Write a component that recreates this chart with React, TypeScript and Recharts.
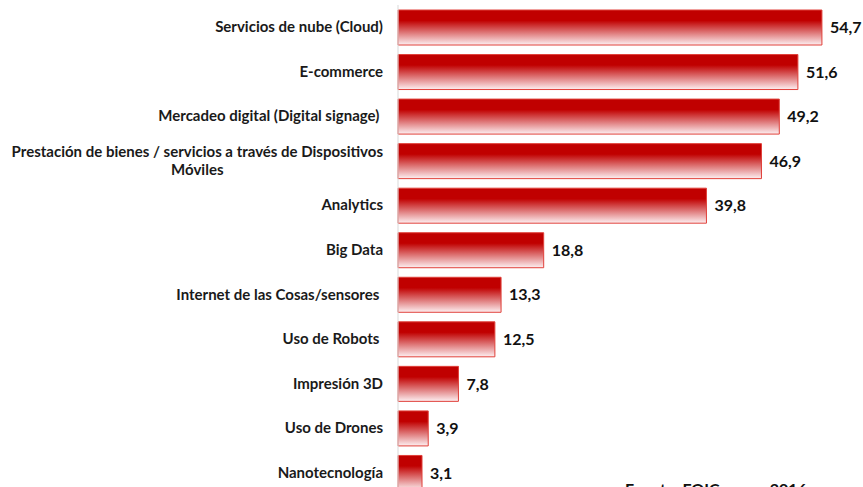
import React from "react";
import { BarChart, Bar, XAxis, YAxis, LabelList } from "recharts";

const categories = [
  "Servicios de nube (Cloud)",
  "E-commerce",
  "Mercadeo digital (Digital signage) ",
  "Prestación de bienes / servicios a través de Dispositivos\nMóviles",
  "Analytics",
  "Big Data",
  "Internet de las Cosas/sensores ",
  "Uso de Robots ",
  "Impresión 3D",
  "Uso de Drones",
  "Nanotecnología",
];
const values = [54.7, 51.6, 49.2, 46.9, 39.8, 18.8, 13.3, 12.5, 7.8, 3.9, 3.1];
const sourceNote = "Fuente: EOIC, mayo 2016";

const data = categories.map((c, i) => ({ name: c, value: values[i] }));

const LABEL_FONT = "bold 15px Lato";
let ctx: CanvasRenderingContext2D | null = null;
function measure(s: string): number {
  if (!ctx) ctx = document.createElement("canvas").getContext("2d");
  if (!ctx) return s.length * 7;
  ctx.font = LABEL_FONT;
  return ctx.measureText(s).width;
}

const CategoryTick = (props: any) => {
  const { x, y, payload } = props;
  const lines: string[] = String(payload.value).split("\n");
  if (lines.length === 1) {
    return (
      <text x={x} y={y} dy={5} textAnchor="end" fill="#1a1a1a"
        style={{ font: LABEL_FONT, whiteSpace: "pre" }}>
        {lines[0]}
      </text>
    );
  }
  const w = Math.max(...lines.map((l) => measure(l)));
  const cx = x - w / 2;
  const lh = 18;
  const start = y - ((lines.length - 1) * lh) / 2;
  return (
    <g>
      {lines.map((l, i) => (
        <text key={i} x={cx} y={start + i * lh} dy={5} textAnchor="middle" fill="#1a1a1a"
          style={{ font: LABEL_FONT }}>
          {l}
        </text>
      ))}
    </g>
  );
};

export default function App() {
  return (
    <div style={{ position: "fixed", left: 0, top: 0, width: 863, height: 487, overflow: "hidden", background: "#fff" }}>
      <BarChart
        width={863}
        height={500}
        data={data}
        layout="vertical"
        margin={{ top: 5, right: 0, bottom: 5, left: 0 }}
      >
        <defs>
          <linearGradient id="barGrad" x1="0" y1="0" x2="0" y2="1">
            <stop offset="0%" stopColor="#C00000" />
            <stop offset="30%" stopColor="#C00000" />
            <stop offset="100%" stopColor="#FDF0F2" />
          </linearGradient>
        </defs>
        <XAxis type="number" domain={[0, 60]} hide />
        <YAxis
          type="category"
          dataKey="name"
          width={398}
          tickSize={0}
          tickMargin={15}
          axisLine={{ stroke: "#D9D9D9" }}
          tickLine={false}
          tick={<CategoryTick />}
          interval={0}
        />
        <Bar dataKey="value" barSize={35} fill="url(#barGrad)" stroke="#E0403A" strokeWidth={1} isAnimationActive={false}>
          <LabelList
            dataKey="value"
            position="right"
            offset={8}
            formatter={(v: any) => String(v).replace(".", ",")}
            style={{ font: "bold 16px Lato", fill: "#111" }}
          />
        </Bar>
      </BarChart>
      <div style={{ position: "absolute", left: 625, top: 479, font: "bold 16px Lato", color: "#111", whiteSpace: "nowrap" }}>
        {sourceNote}
      </div>
    </div>
  );
}
